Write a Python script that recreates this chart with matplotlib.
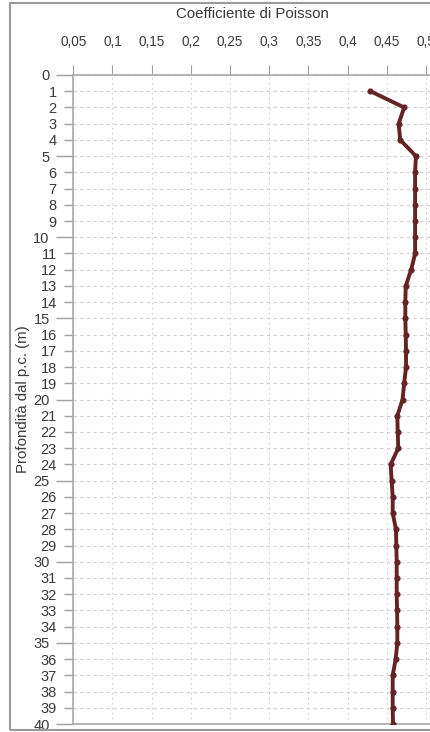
import matplotlib
matplotlib.use("Agg")
import matplotlib.pyplot as plt
from matplotlib.ticker import MultipleLocator, FuncFormatter
from matplotlib.patches import Rectangle

depth = list(range(1, 41))
poisson = [0.429, 0.472, 0.465, 0.467, 0.487, 0.486, 0.486, 0.486, 0.486, 0.486,
           0.486, 0.481, 0.474, 0.4735, 0.4735, 0.474, 0.4744, 0.4744, 0.472, 0.470,
           0.4633, 0.4638, 0.4645, 0.4548, 0.456, 0.4574, 0.4574, 0.4616, 0.462, 0.4625,
           0.4625, 0.4625, 0.463, 0.4633, 0.4633, 0.4612, 0.4574, 0.4574, 0.4574, 0.4578]
xticks = [0.05, 0.1, 0.15, 0.2, 0.25, 0.3, 0.35, 0.4, 0.45, 0.5]
xtick_labels = ["0,05", "0,1", "0,15", "0,2", "0,25", "0,3", "0,35", "0,4", "0,45", "0,5"]

plt.rcParams['font.family'] = ['Liberation Sans', 'DejaVu Sans']
W, H = 431, 732
fig = plt.figure(figsize=(W / 100, H / 100), dpi=100)
fig.patch.set_facecolor('white')

left = 73.3 / W
bottom = 1 - 724 / H
top = 1 - 75 / H
ax = fig.add_axes([left, bottom, 1 - left, top - bottom])

txt = '#3a3a3a'
ax.plot(poisson, depth, color='#652325', lw=2.8, marker='o', ms=3.4,
        solid_joinstyle='miter', zorder=3)

ax.set_xlim(0.05, 0.05 + (W - 73.3) / 784)
ax.set_ylim(40, 0)

ax.xaxis.set_ticks_position('top')
ax.xaxis.set_label_position('top')
ax.set_xticks(xticks)
ax.set_xticklabels(xtick_labels)
ax.tick_params(axis='x', which='major', length=7, width=0.8, color='#a0a0a0',
               pad=12, labelsize=9.8, labelcolor=txt)

ax.yaxis.set_major_locator(MultipleLocator(5))
ax.yaxis.set_minor_locator(MultipleLocator(1))
ax.yaxis.set_major_formatter(FuncFormatter(lambda v, p: f"{int(round(v))}"))
ax.yaxis.set_minor_formatter(FuncFormatter(lambda v, p: "" if int(round(v)) % 5 == 0 else f"{int(round(v))}"))
ax.tick_params(axis='y', which='major', length=12, width=1.0, color='#a0a0a0',
               pad=5, labelsize=10.5, labelcolor=txt)
ax.tick_params(axis='y', which='minor', length=6.5, width=1.0, color='#a0a0a0',
               pad=5.5, labelsize=10.5, labelcolor=txt)

ax.set_xlabel('Coefficiente di Poisson', fontsize=10.8, color=txt, labelpad=12)
ax.set_ylabel('Profondità dal p.c. (m)', fontsize=10.8, color=txt)
ax.yaxis.set_label_coords(-0.122, 0.5)

ax.grid(True, which='both', axis='y', color='#d0d0d0', ls=(0, (3, 3)), lw=0.8)
ax.grid(True, which='major', axis='x', color='#d0d0d0', ls=(0, (1.5, 3)), lw=0.8)
ax.set_axisbelow(True)

for s in ['top', 'bottom', 'left']:
    ax.spines[s].set_color('#a8a8a8')
    ax.spines[s].set_linewidth(1.2)
ax.spines['right'].set_visible(False)

fig.patches.append(Rectangle((10 / W, 1 - 730 / H), 1.0, (730 - 3) / H,
                             transform=fig.transFigure, fill=False,
                             edgecolor='#9a9a9a', lw=1.5))

fig.savefig('out.png', dpi=100)
